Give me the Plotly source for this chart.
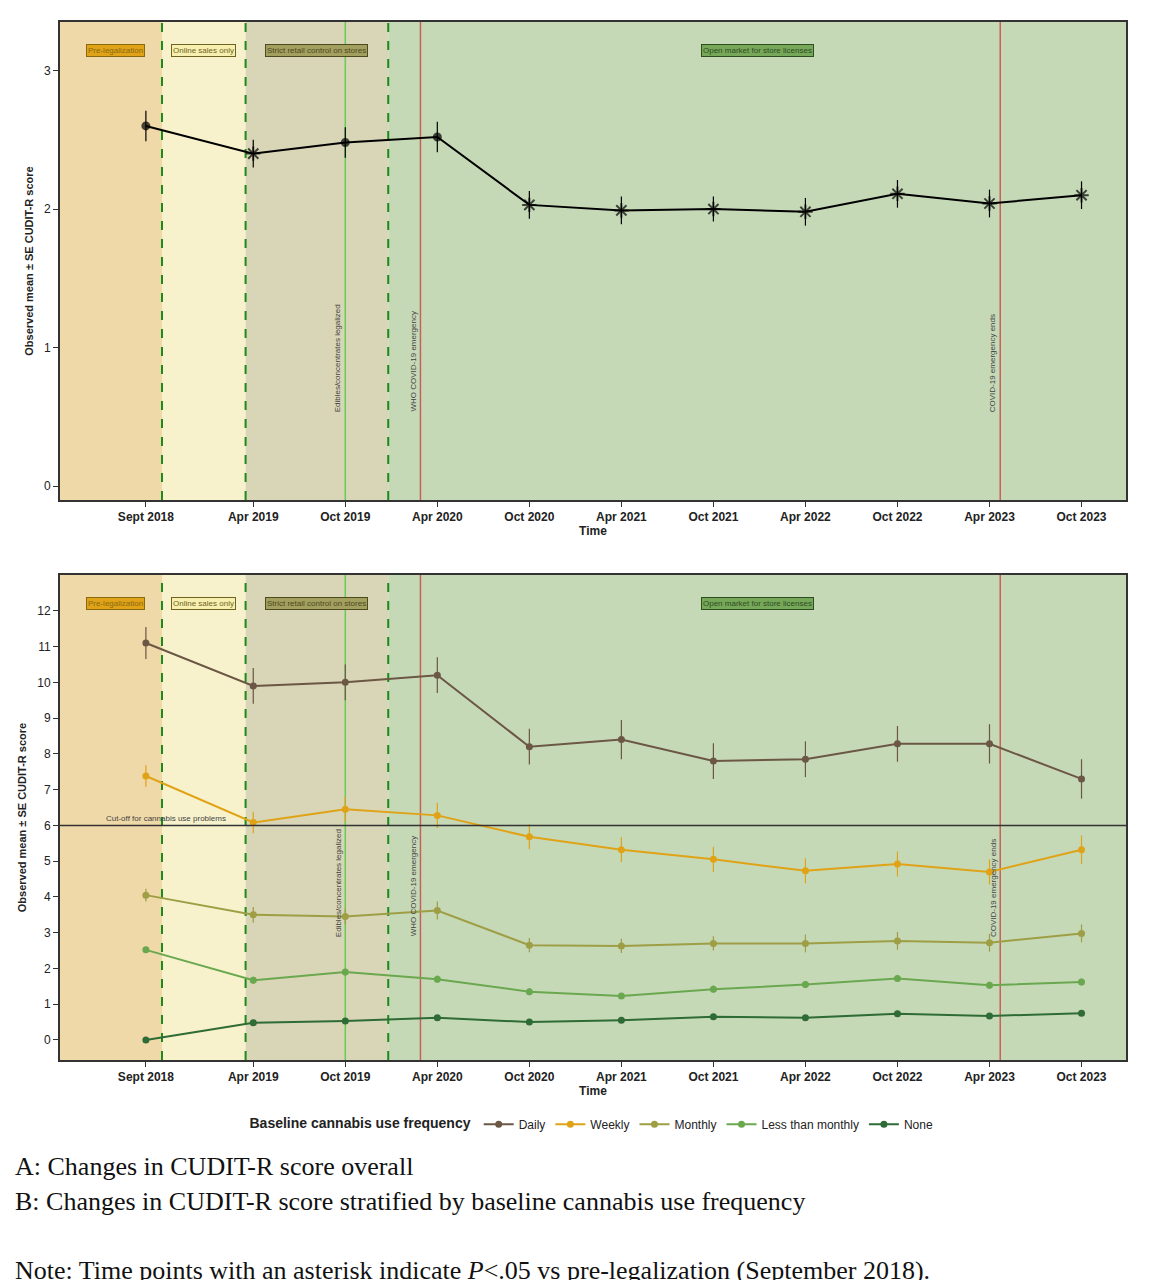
import plotly.graph_objects as go
from plotly.subplots import make_subplots

# months since Sept 2018
months = [0, 7, 13, 19, 25, 31, 37, 43, 49, 55, 61]
tick_labels = ["Sept 2018", "Apr 2019", "Oct 2019", "Apr 2020", "Oct 2020", "Apr 2021",
               "Oct 2021", "Apr 2022", "Oct 2022", "Apr 2023", "Oct 2023"]

overall = [2.6, 2.4, 2.48, 2.52, 2.03, 1.99, 2.0, 1.98, 2.11, 2.04, 2.1]
overall_se = [0.11, 0.1, 0.11, 0.11, 0.1, 0.1, 0.09, 0.1, 0.1, 0.1, 0.1]
overall_sig = [False, True, False, False, True, True, True, True, True, True, True]

groups = ["Daily", "Weekly", "Monthly", "Less than monthly", "None"]
group_colors = ["#6b5744", "#e0a317", "#9e9e45", "#6aa84f", "#2e6b35"]
group_means = [
    [11.1, 9.9, 10.0, 10.2, 8.2, 8.4, 7.8, 7.85, 8.28, 8.28, 7.3],
    [7.38, 6.08, 6.45, 6.28, 5.68, 5.32, 5.05, 4.73, 4.92, 4.7, 5.32],
    [4.05, 3.5, 3.45, 3.62, 2.65, 2.63, 2.7, 2.7, 2.77, 2.72, 2.98],
    [2.52, 1.67, 1.9, 1.7, 1.35, 1.23, 1.42, 1.55, 1.72, 1.53, 1.62],
    [0.0, 0.48, 0.53, 0.62, 0.5, 0.55, 0.65, 0.62, 0.73, 0.67, 0.75],
]
group_se = [
    [0.45, 0.5, 0.5, 0.5, 0.5, 0.55, 0.5, 0.5, 0.5, 0.55, 0.55],
    [0.3, 0.3, 0.35, 0.35, 0.35, 0.35, 0.35, 0.35, 0.35, 0.35, 0.4],
    [0.18, 0.22, 0.22, 0.25, 0.2, 0.2, 0.2, 0.25, 0.25, 0.25, 0.25],
    [0.08, 0.1, 0.1, 0.1, 0.1, 0.08, 0.1, 0.1, 0.1, 0.1, 0.1],
    [0.04, 0.05, 0.06, 0.06, 0.06, 0.06, 0.06, 0.06, 0.06, 0.06, 0.06],
]

# policy periods (months since Sept 2018)
periods = [("Pre-legalization", -6, 1.05, "#f0d9a8", "#e0a317", "#8a6a10"),
           ("Online sales only", 1.05, 6.5, "#f7f2cc", "#f7efb0", "#6e6420"),
           ("Strict retail control on stores", 6.5, 15.8, "#d8d6b6", "#a39f5e", "#4d4a20"),
           ("Open market for store licenses", 15.8, 64, "#c6d9b7", "#77a85a", "#2e4d20")]
dashed_lines = [1.05, 6.5, 15.8]
edibles = 13.0
who_start = 17.9
who_end = 55.7

fig = make_subplots(rows=2, cols=1, vertical_spacing=0.07)

fig.add_trace(go.Scatter(
    x=months, y=overall, mode="lines+markers", showlegend=False,
    line=dict(color="black", width=2),
    marker=dict(color="black", size=[12 if s else 7 for s in overall_sig],
                symbol=["asterisk-open" if s else "circle" for s in overall_sig],
                line=dict(color="black", width=2)),
    error_y=dict(type="data", array=overall_se, width=0, color="black", thickness=1.2),
), row=1, col=1)

for name, color, ys, se in zip(groups, group_colors, group_means, group_se):
    fig.add_trace(go.Scatter(
        x=months, y=ys, mode="lines+markers", name=name,
        line=dict(color=color, width=2), marker=dict(color=color, size=7),
        error_y=dict(type="data", array=se, width=0, color=color, thickness=1.2),
    ), row=2, col=1)

for xref, yref in [("x", "y"), ("x2", "y2")]:
    ydom = "y domain" if yref == "y" else "y2 domain"
    for label, x0, x1, fill, boxc, txtc in periods:
        fig.add_shape(type="rect", xref=xref, yref=ydom, x0=x0, x1=x1, y0=0, y1=1,
                      fillcolor=fill, line_width=0, layer="below")
        fig.add_annotation(xref=xref, yref=ydom, x=(x0 + x1) / 2 + (0.5 if x0 < 0 else 0),
                           y=0.955, text=label, showarrow=False,
                           font=dict(size=8, color=txtc, family="Liberation Sans"),
                           bgcolor=boxc, bordercolor=txtc, borderwidth=1, borderpad=1)
    for d in dashed_lines:
        fig.add_shape(type="line", xref=xref, yref=ydom, x0=d, x1=d, y0=0, y1=1,
                      line=dict(color="#1c8a1c", width=2, dash="dash"), layer="below")
    fig.add_shape(type="line", xref=xref, yref=ydom, x0=edibles, x1=edibles, y0=0, y1=1,
                  line=dict(color="#66cc55", width=1.5), layer="below")
    for w in [who_start, who_end]:
        fig.add_shape(type="line", xref=xref, yref=ydom, x0=w, x1=w, y0=0, y1=1,
                      line=dict(color="#c8605a", width=1.5), layer="below")
    yv = 0.18 if yref == "y" else 0.25
    for xv, txt in [(edibles - 0.45, "Edibles/concentrates legalized"),
                    (who_start - 0.45, "WHO COVID-19 emergency"),
                    (who_end - 0.45, "COVID-19 emergency ends")]:
        fig.add_annotation(xref=xref, yref=ydom, x=xv, y=yv, text=txt, textangle=-90,
                           showarrow=False, yanchor="bottom",
                           font=dict(size=8, color="#444", family="Liberation Sans"))

fig.add_shape(type="line", xref="x2 domain", yref="y2", x0=0, x1=1, y0=6, y1=6,
              line=dict(color="#333", width=1.5))
fig.add_annotation(xref="x2", yref="y2", x=-2.7, y=6, text="Cut-off for cannabis use problems",
                   showarrow=False, xanchor="left", yanchor="bottom",
                   font=dict(size=8, color="#444", family="Liberation Sans"))

axis_common = dict(showline=True, mirror=True, linecolor="#333", linewidth=2, ticks="outside",
                   tickcolor="#333", showgrid=False, zeroline=False, automargin=False,
                   tickfont=dict(size=12, color="#222", family="Liberation Sans"))
for r, yr, tv in [(1, [-0.1, 3.35], [0, 1, 2, 3]), (2, [-0.56, 13.0], list(range(13)))]:
    fig.update_xaxes(range=[-5.6, 63.9], tickvals=months, ticktext=["<b>%s</b>" % t for t in tick_labels],
                     title=dict(text="<b>Time</b>", standoff=0, font=dict(size=12, family="Liberation Sans")),
                     row=r, col=1, **axis_common)
    fig.update_yaxes(range=yr, tickvals=tv, row=r, col=1,
                     title=dict(text="<b>Observed mean ± SE CUDIT-R score</b>", standoff=8,
                                font=dict(size=11, family="Liberation Sans")), **axis_common)

fig.update_layout(
    width=1155, height=1280, plot_bgcolor="white", paper_bgcolor="white",
    margin=dict(l=52, r=37, t=14, b=228, autoexpand=False),
    font=dict(family="Liberation Sans", color="#222"),
    yaxis=dict(domain=[0.5395, 1]), yaxis2=dict(domain=[0, 0.4672]),
    legend=dict(orientation="h", x=0.5, xanchor="center", y=-0.062, yanchor="middle",
                title=dict(text="<b>Baseline cannabis use frequency</b>"), font=dict(size=12)),
)

captions = ["A: Changes in CUDIT-R score overall",
            "B: Changes in CUDIT-R score stratified by baseline cannabis use frequency",
            "Note: Time points with an asterisk indicate <i>P</i><.05 vs pre-legalization (September 2018)."]
for txt, py in zip(captions, [1158, 1193, 1262]):
    fig.add_annotation(xref="paper", yref="paper", x=-47 / 1066, y=-(py - 1052) / 1038,
                       text=txt, showarrow=False, xanchor="left", yanchor="middle",
                       font=dict(size=26, family="Liberation Serif", color="#111"))

fig.write_html("out.html")
